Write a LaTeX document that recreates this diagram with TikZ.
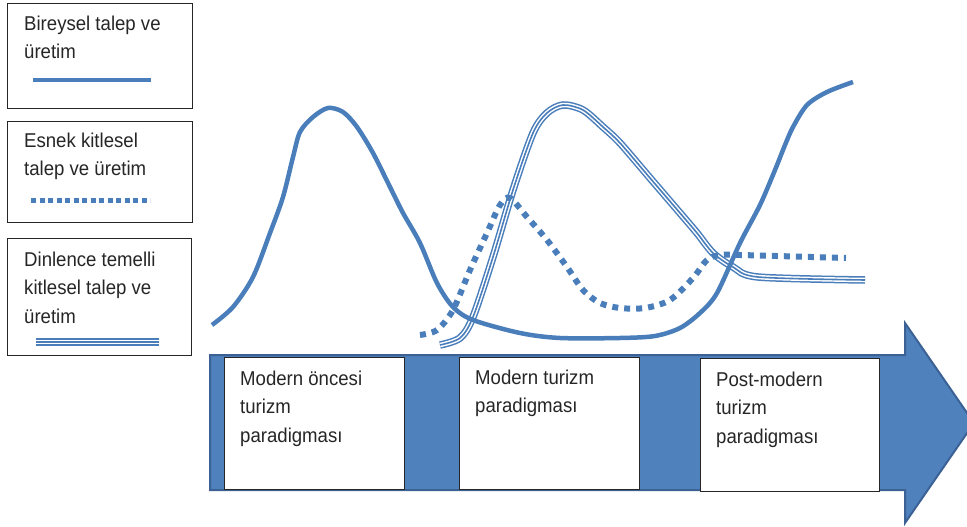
\documentclass[tikz,border=0pt]{standalone}
\usepackage{fontspec}
\setmainfont{Liberation Sans}[FakeStretch=0.93]
\definecolor{ln}{HTML}{4A7EBB}
\definecolor{af}{HTML}{4F81BD}
\definecolor{ab}{HTML}{3B6195}
\tikzset{
  legbox/.style={draw=black!85, line width=0.8pt, anchor=north west, inner sep=0pt, fill=white},
  parbox/.style={draw=black!85, line width=0.8pt, anchor=north west, inner sep=0pt, fill=white},
  txt/.style={font=\fontsize{20}{28.5}\selectfont, align=left, anchor=north west, inner sep=0pt, text=black!85},
  solidc/.style={draw=ln, line width=4.5pt},
  dotc/.style={draw=ln, line width=6pt, dash pattern=on 6pt off 6pt},
  triple/.style={draw=ln, line width=7.5pt, postaction={draw=white, line width=4.5pt}, postaction={draw=ln, line width=1.6pt}},
  bigarrow/.style={fill=af, draw=ab, line width=2pt, line join=miter}
}
\begin{document}
\begin{tikzpicture}[x=1pt,y=-1pt]
\useasboundingbox (0,0) rectangle (967,527);
\clip (0,0) rectangle (967,527);

% legend
\node[legbox, minimum width=185pt, minimum height=105pt] (leg1) at (7,3) {};
\node[txt] (t1) at (24,15.5) {Bireysel talep ve\\üretim};
\coordinate (l1a) at (33,80); \coordinate (l1b) at (151,80);
\draw[solidc, line width=4.5pt] (l1a) -- (l1b);

\node[legbox, minimum width=185pt, minimum height=101pt] (leg2) at (7,121) {};
\node[txt] (t2) at (24,132.4) {Esnek kitlesel\\talep ve üretim};
\coordinate (l2a) at (31,200); \coordinate (l2b) at (150,200);
\draw[draw=ln, line width=5pt, dash pattern=on 5pt off 3.5pt] (l2a) -- (l2b);

\node[legbox, minimum width=184pt, minimum height=117pt] (leg3) at (7,238) {};
\node[txt] (t3) at (24,251.4) {Dinlence temelli\\kitlesel talep ve\\üretim};
\coordinate (l3a) at (36,342); \coordinate (l3b) at (159,342);
\draw[triple] (l3a) -- (l3b);

% arrow
\draw[bigarrow] (210,355) -- (905,355) -- (905,323) -- (974,423) -- (905,523) -- (905,490) -- (210,490) -- cycle;

% paradigm boxes
\node[parbox, minimum width=180pt, minimum height=132pt] (bA) at (224,357) {};
\node[txt] (tA) at (240,370.4) {Modern öncesi\\turizm\\paradigması};
\node[parbox, minimum width=180pt, minimum height=132pt] (bB) at (459,357) {};
\node[txt] (tB) at (475,369.4) {Modern turizm\\paradigması};
\node[parbox, minimum width=179pt, minimum height=133pt] (bC) at (700,358) {};
\node[txt] (tC) at (716,371.4) {Post-modern\\turizm\\paradigması};

% curves
\draw[triple] plot[smooth] coordinates {(440,345) (460,338) (473,317) (493,257) (513,190) (533,133) (547,113) (563,105) (583,110) (603,127) (620,143) (650,178) (680,213) (697,233) (713,253) (733,267) (758,277) (865,280)};
\draw[dotc] plot[smooth] coordinates {(420,335) (437,330) (453,310) (470,270) (487,233) (500,205) (510,198) (527,217) (547,240) (567,267) (583,290) (600,303) (620,308) (645,308) (670,300) (693,278) (707,260) (720,255) (740,255) (846,258)};
\draw[solidc] plot[smooth] coordinates {(212,325) (233,307) (253,277) (270,233) (283,197) (293,157) (300,132) (313,117) (328,108) (343,112) (357,127) (373,153) (390,187) (403,213) (420,243) (437,283) (453,307) (473,320) (520,333) (560,338) (620,338) (655,336) (680,328) (700,313) (717,293) (740,243) (760,205) (775,170) (785,145) (793,127) (807,105) (827,92) (853,82)};
\end{tikzpicture}
\end{document}
